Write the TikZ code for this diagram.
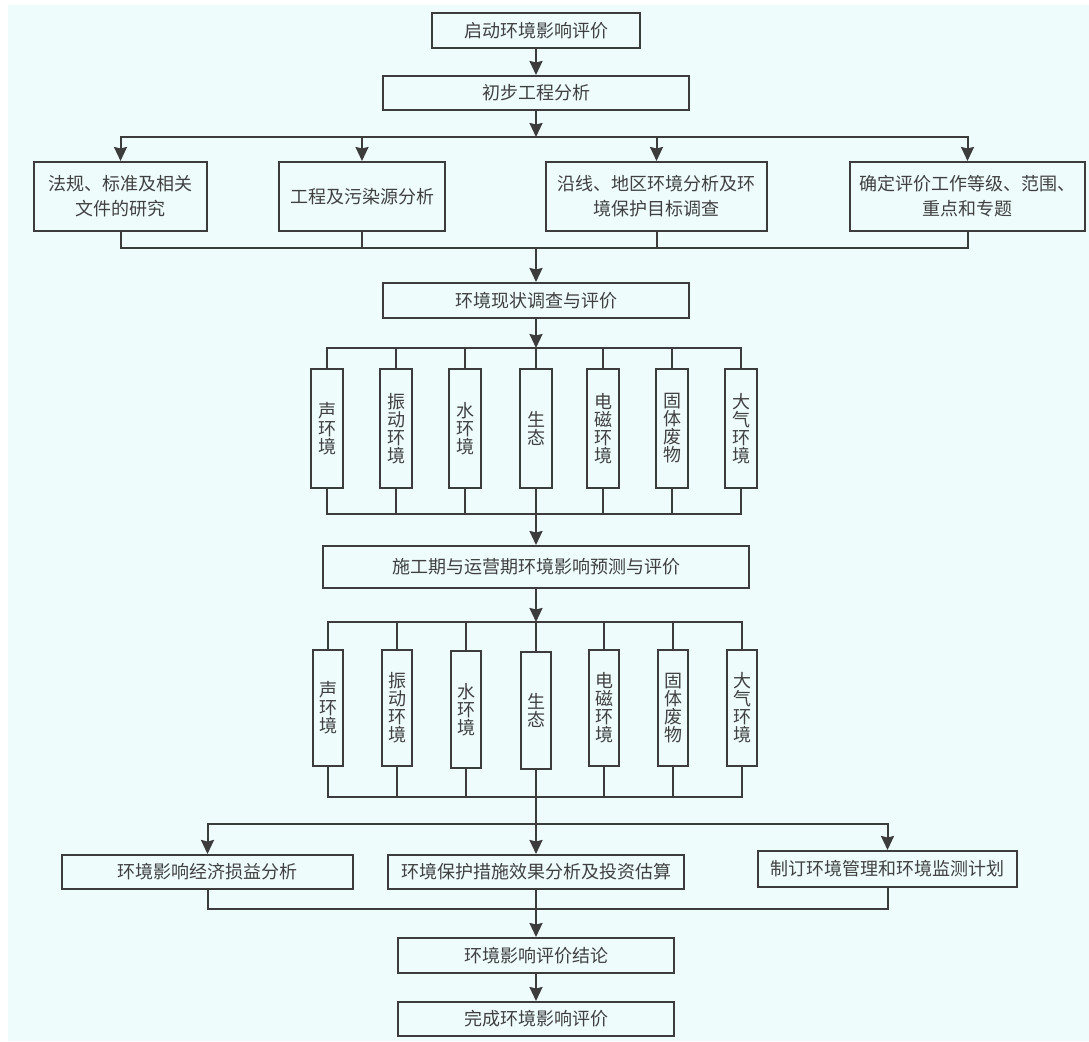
\documentclass[tikz,border=0pt]{standalone}
\usepackage{fontspec}
\newfontfamily\cjk{Noto Sans CJK SC}
\usetikzlibrary{arrows.meta}

\definecolor{bgc}{RGB}{238,252,252}
\definecolor{ink}{RGB}{60,60,60}
\definecolor{txt}{RGB}{64,64,64}

\tikzset{
  box/.style={draw=ink, line width=2pt, rectangle, inner sep=0pt,
    text=txt, align=center, font=\cjk\fontsize{18}{25}\selectfont},
  vbox/.style={box, minimum width=32pt, minimum height=119pt,
    font=\cjk\fontsize{18}{18}\selectfont},
  wbox/.style={box, minimum width=30pt, minimum height=116pt,
    font=\cjk\fontsize{18}{18}\selectfont},
  link/.style={draw=ink, line width=2pt},
  arr/.style={link, -{Stealth[length=14pt,width=13pt,inset=1.5pt]}}
}

\begin{document}
\begin{tikzpicture}[x=1pt,y=-1pt]
  \useasboundingbox (0,0) rectangle (1089,1041);
  \fill[bgc] (8,5) rectangle (1089,1041);

  % main chain, top part
  \node[box, minimum width=208pt, minimum height=35pt] (qd) at (536,30.5) {启动环境影响评价};
  \node[box, minimum width=306pt, minimum height=34pt] (cb) at (536,93) {初步工程分析};

  % four preparatory tasks
  \node[box, minimum width=173pt, minimum height=69pt] (f1) at (120.5,196.5) {法规、标准及相关\\文件的研究};
  \node[box, minimum width=166pt, minimum height=69pt] (f2) at (362,196.5) {工程及污染源分析};
  \node[box, minimum width=221pt, minimum height=69pt] (f3) at (656.5,196.5) {沿线、地区环境分析及环\\境保护目标调查};
  \node[box, minimum width=235pt, minimum height=69pt] (f4) at (967.5,196.5) {确定评价工作等级、范围、\\重点和专题};

  \node[box, minimum width=306pt, minimum height=35pt] (xz) at (536,300.5) {环境现状调查与评价};

  % survey items
  \node[vbox] (a1) at (327,428.5) {声\\环\\境};
  \node[vbox] (a2) at (396,428.5) {振\\动\\环\\境};
  \node[vbox] (a3) at (465,428.5) {水\\环\\境};
  \node[vbox] (a4) at (536,428.5) {生\\态};
  \node[vbox] (a5) at (603,428.5) {电\\磁\\环\\境};
  \node[vbox] (a6) at (672,428.5) {固\\体\\废\\物};
  \node[vbox] (a7) at (741,428.5) {大\\气\\环\\境};

  \node[box, minimum width=426pt, minimum height=42pt] (sg) at (536,567) {施工期与运营期环境影响预测与评价};

  % prediction items
  \node[wbox] (b1) at (328,708) {声\\环\\境};
  \node[wbox] (b2) at (397,708) {振\\动\\环\\境};
  \node[wbox, minimum height=117pt] (b3) at (466,709.5) {水\\环\\境};
  \node[wbox, minimum height=117pt] (b4) at (536,710.5) {生\\态};
  \node[wbox] (b5) at (604,708) {电\\磁\\环\\境};
  \node[wbox] (b6) at (673,708) {固\\体\\废\\物};
  \node[wbox] (b7) at (742,708) {大\\气\\环\\境};

  % measures
  \node[box, minimum width=291pt, minimum height=34pt] (jj) at (207.5,872) {环境影响经济损益分析};
  \node[box, minimum width=296pt, minimum height=34pt] (bh) at (536,872) {环境保护措施效果分析及投资估算};
  \node[box, minimum width=259pt, minimum height=36pt] (zd) at (887.5,869) {制订环境管理和环境监测计划};

  \node[box, minimum width=276pt, minimum height=35pt] (jl) at (536,955.5) {环境影响评价结论};
  \node[box, minimum width=276pt, minimum height=34pt] (wc) at (536,1019) {完成环境影响评价};

  % junction points
  \coordinate (s1) at (536,137);
  \coordinate (m1) at (536,248);
  \coordinate (s2) at (536,348);
  \coordinate (m2) at (536,514);
  \coordinate (s3) at (536,622);
  \coordinate (m3) at (536,797);
  \coordinate (s4) at (536,824);
  \coordinate (m4) at (536,909);

  % connectors
  \draw[arr] (qd) -- (cb);
  \draw[arr] (cb) -- (s1);
  \foreach \n in {f1,f2,f3,f4} {
    \draw[arr] (s1) -| (\n.north);
    \draw[link] (\n.south) |- (m1);
  }
  \draw[arr] (m1) -- (xz);
  \draw[arr] (xz) -- (s2);
  \foreach \n in {a1,a2,a3,a4,a5,a6,a7} {
    \draw[link] (s2) -| (\n.north);
    \draw[link] (\n.south) |- (m2);
  }
  \draw[arr] (m2) -- (sg);
  \draw[arr] (sg) -- (s3);
  \foreach \n in {b1,b2,b3,b4,b5,b6,b7} {
    \draw[link] (s3) -| (\n.north);
    \draw[link] (\n.south) |- (m3);
  }
  \draw[arr] (m3) -- (bh);
  \draw[arr] (s4) -| (jj.north);
  \draw[arr] (s4) -| (zd.north);
  \draw[link] (jj.south) |- (m4);
  \draw[link] (zd.south) |- (m4);
  \draw[arr] (bh) -- (jl);
  \draw[arr] (jl) -- (wc);
\end{tikzpicture}
\end{document}
